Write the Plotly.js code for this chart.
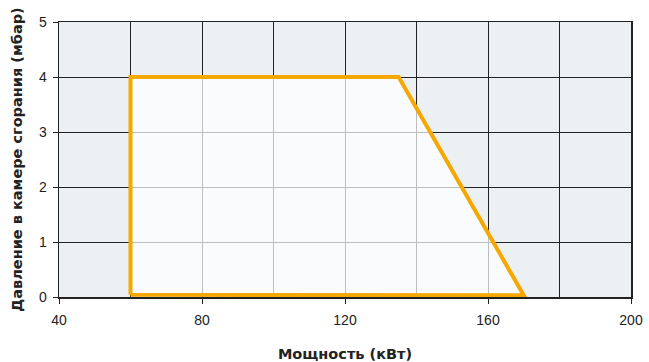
<!DOCTYPE html>
<html><head><meta charset="utf-8">
<script src="https://cdn.plot.ly/plotly-3.0.1.min.js"></script>
<style>html,body{margin:0;padding:0;background:#fff}#c{width:649px;height:362px}</style>
</head><body><div id="c"></div>
<script>
const powerKW = [60, 60, 135, 170, 60];
const pressureMbar = [0.04, 4, 4, 0.03, 0.04];
const xTicks = [40, 80, 120, 160, 200];
const yTicks = [0, 1, 2, 3, 4, 5];

const trace = {
  x: powerKW, y: pressureMbar, type: 'scatter', mode: 'lines',
  fill: 'toself', fillcolor: 'rgba(255,255,255,0.7)',
  line: {color: '#F5A800', width: 4}, hoverinfo: 'skip', showlegend: false
};
const layout = {
  width: 649, height: 362,
  margin: {l: 59, r: 18, t: 22, b: 65},
  paper_bgcolor: '#fff', plot_bgcolor: '#EDF0F3',
  font: {family: 'Liberation Sans, Arial, sans-serif', size: 14, color: '#222'},
  xaxis: {
    range: [40, 200], tickvals: xTicks, ticks: 'outside', ticklen: 5, tickcolor: '#222',
    ticklabelstandoff: 5,
    showline: true, linecolor: '#222', linewidth: 1.5, mirror: true,
    showgrid: true, gridcolor: '#222', gridwidth: 1,
    minor: {dtick: 20, tick0: 40, showgrid: true, gridcolor: '#222', gridwidth: 1, ticks: ''},
    zeroline: false, automargin: false,
    title: {text: '<b>Мощность (кВт)</b>', font: {family: 'DejaVu Sans, sans-serif', size: 14.5, color: '#222'}, standoff: 22}
  },
  yaxis: {
    range: [0, 5], tickvals: yTicks, ticks: 'outside', ticklen: 5, tickcolor: '#222',
    ticklabelstandoff: 3,
    showline: true, linecolor: '#222', linewidth: 1.5, mirror: true,
    showgrid: true, gridcolor: '#222', gridwidth: 1, zeroline: false, automargin: false,
    title: {text: '<b>Давление в камере сгорания (мбар)</b>', font: {family: 'DejaVu Sans, sans-serif', size: 14.5, color: '#222'}, standoff: 13}
  }
};
Plotly.newPlot('c', [trace], layout, {staticPlot: true});
</script></body></html>
